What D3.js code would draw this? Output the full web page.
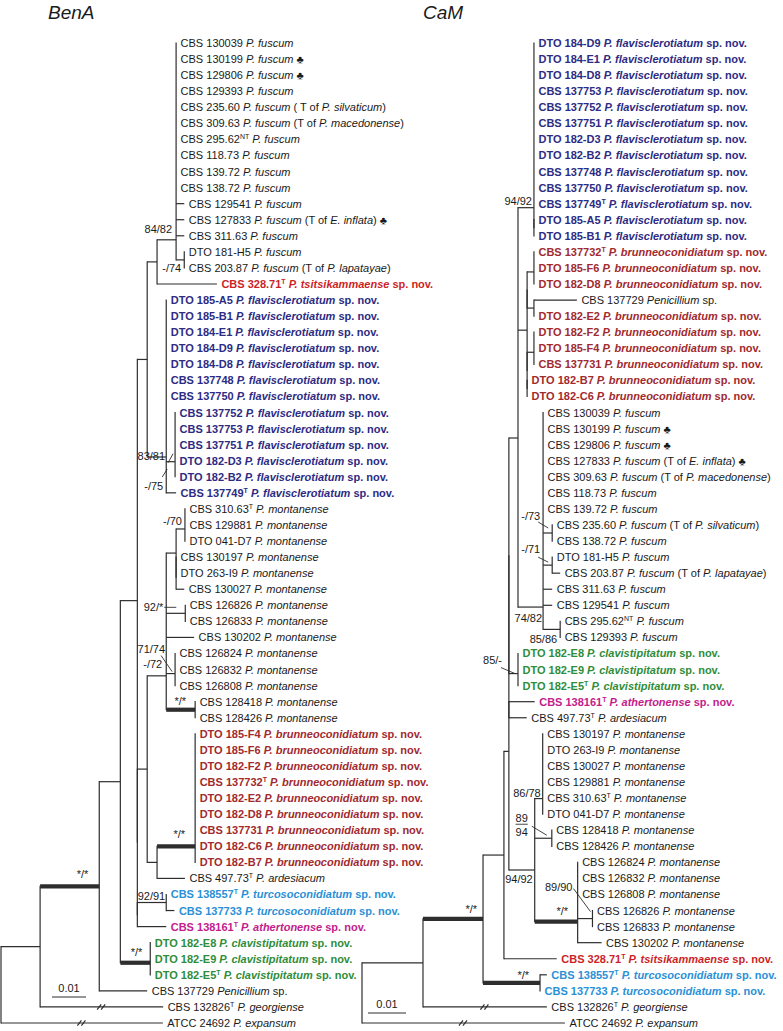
<!DOCTYPE html>
<html><head><meta charset="utf-8">
<script src="https://cdn.jsdelivr.net/npm/d3@7"></script>
<style>
html,body{margin:0;padding:0;background:#fff;}
svg{display:block;}
text{font-family:"Liberation Sans",Arial,Helvetica,sans-serif;white-space:pre;}
</style></head><body>
<svg id="chart" width="783" height="1031"></svg>
<script>
// ---------------- DATA ----------------
const benaTitle = "BenA";
const camTitle = "CaM";
const scaleBarValue = 0.01;

// leaf labels (_italic_, ^superscript^), in tree order top to bottom
const benaLeaves = [
 "CBS 130039 _P. fuscum_","CBS 130199 _P. fuscum_ ♣","CBS 129806 _P. fuscum_ ♣","CBS 129393 _P. fuscum_",
 "CBS 235.60 _P. fuscum_ ( T of _P. silvaticum_)","CBS 309.63 _P. fuscum_ (T of _P. macedonense_)",
 "CBS 295.62^NT^ _P. fuscum_","CBS 118.73 _P. fuscum_","CBS 139.72 _P. fuscum_","CBS 138.72 _P. fuscum_",
 "CBS 129541 _P. fuscum_","CBS 127833 _P. fuscum_ (T of _E. inflata_) ♣","CBS 311.63 _P. fuscum_",
 "DTO 181-H5 _P. fuscum_","CBS 203.87 _P. fuscum_ (T of _P. lapatayae_)",
 "CBS 328.71^T^ _P. tsitsikammaense_ sp. nov.",
 "DTO 185-A5 _P. flavisclerotiatum_ sp. nov.","DTO 185-B1 _P. flavisclerotiatum_ sp. nov.",
 "DTO 184-E1 _P. flavisclerotiatum_ sp. nov.","DTO 184-D9 _P. flavisclerotiatum_ sp. nov.",
 "DTO 184-D8 _P. flavisclerotiatum_ sp. nov.","CBS 137748 _P. flavisclerotiatum_ sp. nov.",
 "CBS 137750 _P. flavisclerotiatum_ sp. nov.","CBS 137752 _P. flavisclerotiatum_ sp. nov.",
 "CBS 137753 _P. flavisclerotiatum_ sp. nov.","CBS 137751 _P. flavisclerotiatum_ sp. nov.",
 "DTO 182-D3 _P. flavisclerotiatum_ sp. nov.","DTO 182-B2 _P. flavisclerotiatum_ sp. nov.",
 "CBS 137749^T^ _P. flavisclerotiatum_ sp. nov.",
 "CBS 310.63^T^ _P. montanense_","CBS 129881 _P. montanense_","DTO 041-D7 _P. montanense_",
 "CBS 130197 _P. montanense_","DTO 263-I9 _P. montanense_","CBS 130027 _P. montanense_",
 "CBS 126826 _P. montanense_","CBS 126833 _P. montanense_","CBS 130202 _P. montanense_",
 "CBS 126824 _P. montanense_","CBS 126832 _P. montanense_","CBS 126808 _P. montanense_",
 "CBS 128418 _P. montanense_","CBS 128426 _P. montanense_",
 "DTO 185-F4 _P. brunneoconidiatum_ sp. nov.","DTO 185-F6 _P. brunneoconidiatum_ sp. nov.",
 "DTO 182-F2 _P. brunneoconidiatum_ sp. nov.","CBS 137732^T^ _P. brunneoconidiatum_ sp. nov.",
 "DTO 182-E2 _P. brunneoconidiatum_ sp. nov.","DTO 182-D8 _P. brunneoconidiatum_ sp. nov.",
 "CBS 137731 _P. brunneoconidiatum_ sp. nov.","DTO 182-C6 _P. brunneoconidiatum_ sp. nov.",
 "DTO 182-B7 _P. brunneoconidiatum_ sp. nov.",
 "CBS 497.73^T^ _P. ardesiacum_",
 "CBS 138557^T^ _P. turcosoconidiatum_ sp. nov.","CBS 137733 _P. turcosoconidiatum_ sp. nov.",
 "CBS 138161^T^ _P. athertonense_ sp. nov.",
 "DTO 182-E8 _P. clavistipitatum_ sp. nov.","DTO 182-E9 _P. clavistipitatum_ sp. nov.",
 "DTO 182-E5^T^ _P. clavistipitatum_ sp. nov.",
 "CBS 137729 _Penicillium_ sp.","CBS 132826^T^ _P. georgiense_","ATCC 24692 _P. expansum_"
];
const camLeaves = [
 "DTO 184-D9 _P. flavisclerotiatum_ sp. nov.","DTO 184-E1 _P. flavisclerotiatum_ sp. nov.",
 "DTO 184-D8 _P. flavisclerotiatum_ sp. nov.","CBS 137753 _P. flavisclerotiatum_ sp. nov.",
 "CBS 137752 _P. flavisclerotiatum_ sp. nov.","CBS 137751 _P. flavisclerotiatum_ sp. nov.",
 "DTO 182-D3 _P. flavisclerotiatum_ sp. nov.","DTO 182-B2 _P. flavisclerotiatum_ sp. nov.",
 "CBS 137748 _P. flavisclerotiatum_ sp. nov.","CBS 137750 _P. flavisclerotiatum_ sp. nov.",
 "CBS 137749^T^ _P. flavisclerotiatum_ sp. nov.","DTO 185-A5 _P. flavisclerotiatum_ sp. nov.",
 "DTO 185-B1 _P. flavisclerotiatum_ sp. nov.",
 "CBS 137732^T^ _P. brunneoconidiatum_ sp. nov.","DTO 185-F6 _P. brunneoconidiatum_ sp. nov.",
 "DTO 182-D8 _P. brunneoconidiatum_ sp. nov.","CBS 137729 _Penicillium_ sp.",
 "DTO 182-E2 _P. brunneoconidiatum_ sp. nov.","DTO 182-F2 _P. brunneoconidiatum_ sp. nov.",
 "DTO 185-F4 _P. brunneoconidiatum_ sp. nov.","CBS 137731 _P. brunneoconidiatum_ sp. nov.",
 "DTO 182-B7 _P. brunneoconidiatum_ sp. nov.","DTO 182-C6 _P. brunneoconidiatum_ sp. nov.",
 "CBS 130039 _P. fuscum_","CBS 130199 _P. fuscum_ ♣","CBS 129806 _P. fuscum_ ♣",
 "CBS 127833 _P. fuscum_ (T of _E. inflata_) ♣","CBS 309.63 _P. fuscum_ (T of _P. macedonense_)",
 "CBS 118.73 _P. fuscum_","CBS 139.72 _P. fuscum_","CBS 235.60 _P. fuscum_ (T of _P. silvaticum_)",
 "CBS 138.72 _P. fuscum_","DTO 181-H5 _P. fuscum_","CBS 203.87 _P. fuscum_ (T of _P. lapatayae_)",
 "CBS 311.63 _P. fuscum_","CBS 129541 _P. fuscum_","CBS 295.62^NT^ _P. fuscum_","CBS 129393 _P. fuscum_",
 "DTO 182-E8 _P. clavistipitatum_ sp. nov.","DTO 182-E9 _P. clavistipitatum_ sp. nov.",
 "DTO 182-E5^T^ _P. clavistipitatum_ sp. nov.",
 "CBS 138161^T^ _P. athertonense_ sp. nov.","CBS 497.73^T^ _P. ardesiacum_",
 "CBS 130197 _P. montanense_","DTO 263-I9 _P. montanense_","CBS 130027 _P. montanense_",
 "CBS 129881 _P. montanense_","CBS 310.63^T^ _P. montanense_","DTO 041-D7 _P. montanense_",
 "CBS 128418 _P. montanense_","CBS 128426 _P. montanense_","CBS 126824 _P. montanense_",
 "CBS 126832 _P. montanense_","CBS 126808 _P. montanense_","CBS 126826 _P. montanense_",
 "CBS 126833 _P. montanense_","CBS 130202 _P. montanense_",
 "CBS 328.71^T^ _P. tsitsikammaense_ sp. nov.",
 "CBS 138557^T^ _P. turcosoconidiatum_ sp. nov.","CBS 137733 _P. turcosoconidiatum_ sp. nov.",
 "CBS 132826^T^ _P. georgiense_","ATCC 24692 _P. expansum_"
];

// tree topology and branch lengths (substitutions/site); leaves = index into label arrays
const benaNewick = `(
 ((((((
   (0:0,1:0,2:0,3:0,4:0,5:0,6:0,7:0,8:0,9:0,10:0.0024,11:0.0024,12:0.0024,(13:0,14:0)s74:0.0024)F:0.0056,
   15:0.0176)G:0.0029,
   (16:0,17:0,18:0,19:0,20:0,21:0,22:0,(23:0,24:0,25:0,26:0,27:0)S:0.0026,28:0.0029)Fv:0.0056
  )E:0.0029,
  ((
    (((29:0,30:0,31:0)M1:0.0026,(32:0,33:0,34:0.0024)x1:0)M2:0.0029,
     (35:0,36:0)P:0.0056,
     37:0.0082,
     (38:0,39:0,40:0)Q:0.0026,
     (41:0,42:0)Rr:0.0085)M3:0.0056,
    ((43:0,44:0,45:0,46:0,47:0,48:0,49:0,50:0,51:0)Br:0.0112,52:0.0082)L:0.0029
   )I:0.0029,
   ((53:0,54:0.0024)Tu:0.0085,55:0.0085)x3:0
  )x2:0
  )D:0.0050,
  (56:0,57:0,58:0)Cl:0.0088
 )C:0.0062,
 59:0.0141)B:0.0174,
 60:0.0362)A:0.0115,
 61:0.0476)R;`;

const camNewick = `(
 ((
  (
   (
    ((
      (0:0,1:0,2:0,3:0,4:0,5:0,6:0,7:0,8:0,9:0,10:0,(11:0,12:0)y3:0)Fl:0.0042,
      (((13:0,14:0,15:0)B1:0.0018,(16:0.0113,17:0)B2:0.0018)y4:0,((18:0,19:0,20:0)B3:0.0018,(21:0,22:0)y6:0)y5:0)N2:0.0024,
      (23:0,24:0,25:0,26:0,27:0,28:0,29:0,(30:0,31:0)Fa:0.0024,(32:0,33:0.0021)Fb:0.0024,34:0.0024,35:0.0024,(36:0,37:0)Fc:0.0045)Fu:0.0066
     )N1:0.0024,
     (38:0,39:0,40:0)Cl:0.0024)y1:0,
    (41:0.0068,42:0.0047)y2:0,
    ((43:0,44:0,45:0,46:0,47:0,48:0)Mn1:0.0021,(49:0,50:0)pr:0.0045,
     (51:0,52:0,53:0,(54:0,55:0)pr2:0.0039,56:0.0063)Mn3:0.0113)Mn:0.0068
   )Dd:0.0013,
   57:0.0139)Cc:0.0055,
  (58:0.0018,59:0)Tu:0.0150
 )Bb:0.0158,
 60:0.0326)Aa:0.01605,
 61:0.0534)R;`;

// bootstrap / posterior support labels (node, text)
const benaSupport = [["F","84/82"],["s74","-/74"],["S","83/81"],["Fv","-/75"],["M1","-/70"],["P","92/*"],
 ["Q","71/74"],["M3","-/72"],["Rr","*/*"],["Br","*/*"],["B","*/*"],["Cl","*/*"],["Tu","92/91"]];
const camSupport = [["Fl","94/92"],["Fa","-/73"],["Fb","-/71"],["Fu","74/82"],["Fc","85/86"],["Cl","85/-"],
 ["Mn1","86/78"],["pr","89/94"],["Mn3","*/*"],["pr2","89/90"],["Bb","*/*"],["Tu","*/*"],["Mn","94/92"]];
// fully supported branches drawn thick
const benaThick = ["B","Rr","Br","Cl"];
const camThick = ["Bb","Mn3","Tu"];
// branches shortened for display
const benaBroken = ["60","61"];
const camBroken = ["60","61"];

// ---------------- STYLE / LAYOUT ----------------
const speciesColor = {
  flavisclerotiatum:"#2d2b83", brunneoconidiatum:"#a12a2e", tsitsikammaense:"#cc1f27",
  turcosoconidiatum:"#2b90d6", athertonense:"#c4208c", clavistipitatum:"#2f8d3a"
};
const lineColor = "#2e2e2e", textColor = "#1a1a1a";
// support label placement relative to node: [dx of text end, dy of baseline, leader?, stacked?]
const benaSupportPos = {
  F:[-4,-7], s74:[-3,12], S:[-10,-2,[-7,1,-2,-8]], Fv:[-3,33,[-4,20,1,12]], M1:[-3,-4],
  P:[-22,-2,[-21,-6,-9,-6]], Q:[-10,-21,[-14,-18,-3,-2]], M3:[-4,-8], Rr:[-9,-5], Br:[-10,-8],
  B:[-11,-8], Cl:[-8,-7], Tu:[-1,-3]
};
const camSupportPos = {
  Fl:[-2,-3], Fa:[-12,-13,[-14,-11,-4,-5]], Fb:[-12,-12,[-14,-8,-4,-3]], Fu:[-1,15], Fc:[-3,14],
  Cl:[-16,-10,[-17,-6,-3,0]], Mn1:[-2,-2], pr:[-24,-16,[-20,-12,-5,-3],true], Mn3:[-9.5,-7],
  pr2:[-20,-28,[-19,-30,-2,-7]], Bb:[-6,-6], Tu:[-11,-4], Mn:[-2,13]
};

const svg = d3.select("#chart");
svg.append("rect").attr("width",783).attr("height",1031).attr("fill","#fff");

function parseNewick(str){
  const s = str.replace(/\s+/g,"");
  let i = 0;
  function node(){
    const n = {name:"", len:0, children:null};
    if (s[i] === "("){
      i++; n.children = [];
      while (true){
        n.children.push(node());
        if (s[i] === ","){ i++; continue; }
        if (s[i] === ")"){ i++; break; }
        break;
      }
    }
    let name = "";
    while (i < s.length && !",():;".includes(s[i])) name += s[i++];
    n.name = name;
    if (s[i] === ":"){ i++; let num=""; while (i < s.length && !",();".includes(s[i])) num += s[i++]; n.len = +num; }
    return n;
  }
  return node();
}

function addLeafLabel(g, x, y, str){
  const key = Object.keys(speciesColor).find(k => str.includes(k));
  const color = key ? speciesColor[key] : textColor;
  const t = g.append("text").attr("x",x).attr("y",y).attr("font-size",11)
    .attr("fill",color).attr("font-weight", key ? "bold" : "normal");
  const parts = str.split(/(_[^_]+_|\^[^^]+\^)/).filter(p => p.length);
  let raised = false;
  parts.forEach(p => {
    let ts;
    if (p[0] === "^"){
      ts = t.append("tspan").attr("font-size",7).attr("dy",-4).text(p.slice(1,-1));
      raised = true; return;
    }
    if (p[0] === "_") ts = t.append("tspan").attr("font-style","italic").text(p.slice(1,-1));
    else ts = t.append("tspan").text(p);
    if (raised){ ts.attr("dy",4); raised = false; }
  });
}

function drawTree(cfg){
  const g = svg.append("g");
  const root = d3.hierarchy(parseNewick(cfg.newick), d => d.children);
  const xs = d3.scaleLinear().domain([0, scaleBarValue]).range([cfg.x0, cfg.x0 + cfg.pxPer]);
  const ys = d3.scalePoint().domain(d3.range(cfg.leaves.length)).range([43, 1023]);
  root.eachBefore(d => { d.dist = d.parent ? d.parent.dist + d.data.len : 0; d.px = xs(d.dist); });
  root.eachAfter(d => {
    if (!d.children) d.py = ys(+d.data.name);
    else { let acc = d.children[0].py; for (let k=1;k<d.children.length;k++) acc = (acc + d.children[k].py)/2; d.py = acc; }
  });
  const byName = {};
  root.each(d => { if (d.data.name) byName[d.data.name] = d; });

  // horizontal branches
  root.descendants().filter(d => d.parent && d.px - d.parent.px > 0.01).forEach(d => {
    const thick = cfg.thick.includes(d.data.name);
    g.append("line").attr("x1",d.parent.px).attr("x2",d.px).attr("y1",d.py).attr("y2",d.py)
      .attr("stroke",lineColor).attr("stroke-width", thick ? 4.2 : 1.2);
    if (cfg.broken.includes(d.data.name)){
      const mx = (d.parent.px + d.px)/2;
      [-2.5, 1.5].forEach(o => g.append("line").attr("x1",mx+o-2).attr("y1",d.py+2.6).attr("x2",mx+o+2).attr("y2",d.py-2.6)
        .attr("stroke",lineColor).attr("stroke-width",1.2));
    }
  });
  // vertical connectors
  root.descendants().filter(d => d.children).forEach(d => {
    const e = d3.extent(d.children, c => c.py);
    g.append("line").attr("x1",d.px).attr("x2",d.px).attr("y1",e[0]).attr("y2",e[1])
      .attr("stroke",lineColor).attr("stroke-width",1.2).attr("stroke-linecap","square");
  });
  // leaf labels
  root.leaves().forEach(d => addLeafLabel(g, d.px + 4.5, d.py + 4, cfg.leaves[+d.data.name]));
  // support labels
  cfg.support.forEach(([name, txt]) => {
    const n = byName[name]; const pos = cfg.supportPos[name];
    const x = n.px + pos[0], y = n.py + pos[1];
    if (pos[3]){
      const [a,b] = txt.split("/");
      const t1 = g.append("text").attr("x",x).attr("y",y).attr("text-anchor","end").attr("font-size",11).attr("fill",textColor).text(a);
      g.append("text").attr("x",x).attr("y",y+14).attr("text-anchor","end").attr("font-size",11).attr("fill",textColor).text(b);
      const w = t1.node().getComputedTextLength();
      g.append("line").attr("x1",x-w).attr("x2",x).attr("y1",y+2).attr("y2",y+2).attr("stroke",textColor).attr("stroke-width",0.8);
    } else {
      g.append("text").attr("x",x).attr("y",y).attr("text-anchor","end").attr("font-size",11).attr("fill",textColor).text(txt);
    }
    if (pos[2]){
      const L = pos[2];
      g.append("line").attr("x1",n.px+L[0]).attr("y1",n.py+L[1]).attr("x2",n.px+L[2]).attr("y2",n.py+L[3])
        .attr("stroke",lineColor).attr("stroke-width",0.9);
    }
  });
  // title
  g.append("text").attr("x",cfg.titleX).attr("y",19).attr("font-size",19).attr("font-style","italic")
    .attr("fill",textColor).text(cfg.title);
  // scale bar
  const sb = cfg.scaleBar;
  const len = xs(scaleBarValue) - xs(0);
  g.append("line").attr("x1",sb[0]).attr("x2",sb[0]+len).attr("y1",sb[1]).attr("y2",sb[1])
    .attr("stroke",lineColor).attr("stroke-width",1.2);
  g.append("text").attr("x",sb[0]+len/2).attr("y",sb[1]-5).attr("text-anchor","middle").attr("font-size",11)
    .attr("fill",textColor).text(String(scaleBarValue));
}

drawTree({newick:benaNewick, leaves:benaLeaves, support:benaSupport, supportPos:benaSupportPos,
  thick:benaThick, broken:benaBroken, x0:1, pxPer:34, title:benaTitle, titleX:48, scaleBar:[52,997]});
drawTree({newick:camNewick, leaves:camLeaves, support:camSupport, supportPos:camSupportPos,
  thick:camThick, broken:camBroken, x0:362, pxPer:38, title:camTitle, titleX:423, scaleBar:[368,1013]});
</script>
</body></html>
